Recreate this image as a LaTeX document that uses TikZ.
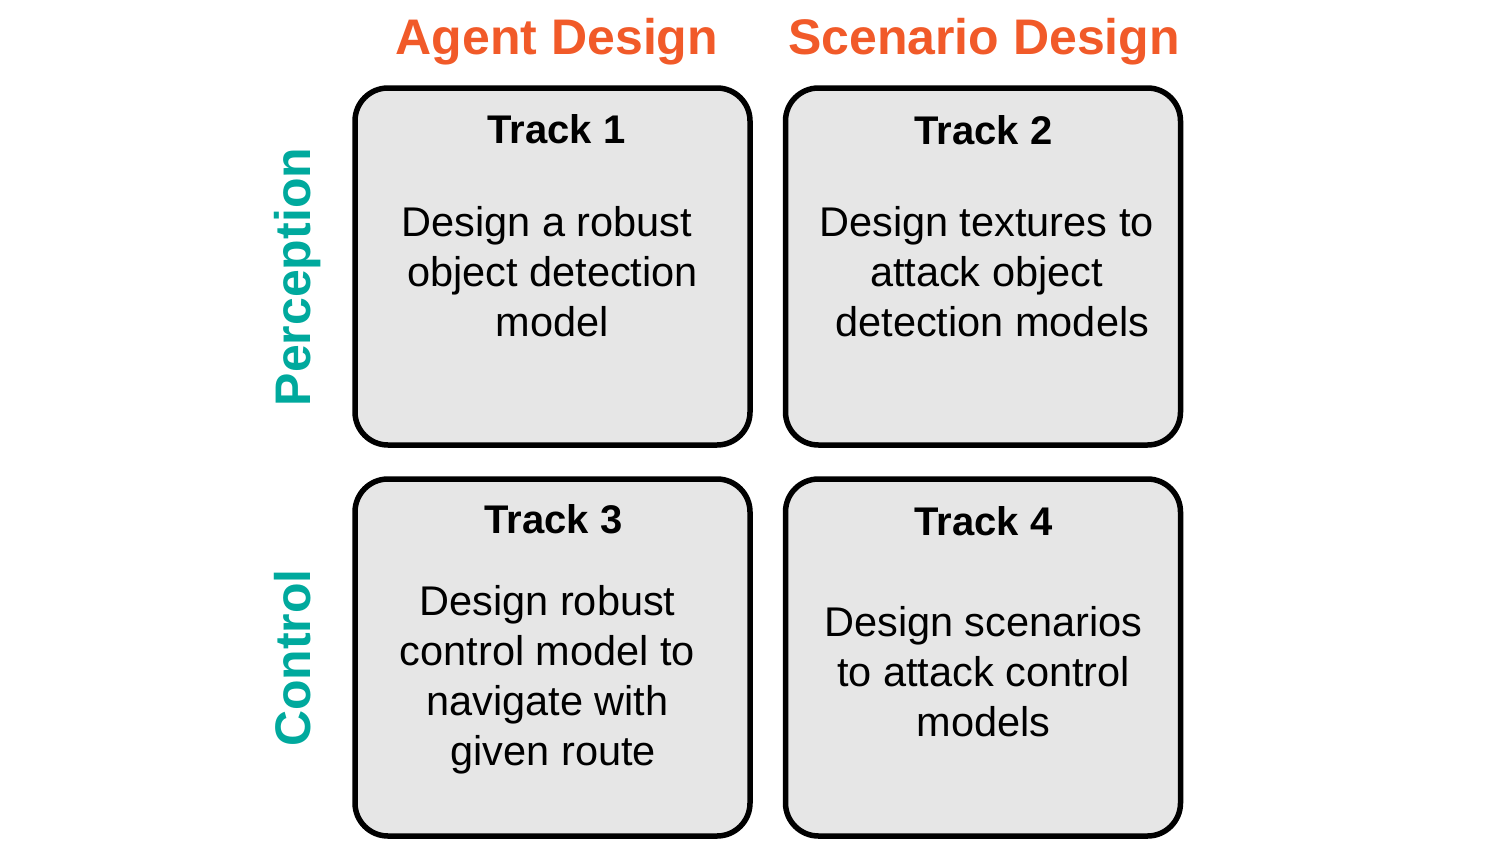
\documentclass[tikz,border=0pt]{standalone}
\usepackage{fontspec}
\setmainfont{Liberation Sans}
\definecolor{headorange}{HTML}{F15A29}
\definecolor{rowteal}{HTML}{00A99D}
\definecolor{boxgray}{HTML}{E6E6E6}
\newcommand{\lead}{\hspace*{11.5pt}}
\tikzset{
  trackbox/.style={draw=black, line width=5.5pt, fill=boxgray, rounded corners=33pt,
    minimum width=395pt, minimum height=357pt, inner sep=0pt},
  colhead/.style={anchor=base, text=headorange, font=\fontsize{50}{60}\selectfont\bfseries, inner sep=0pt},
  rowhead/.style={anchor=base, rotate=90, text=rowteal, font=\fontsize{50}{60}\selectfont\bfseries, inner sep=0pt},
  tracktitle/.style={anchor=base, font=\fontsize{40}{50}\selectfont\bfseries, inner sep=0pt},
  % base anchor of a multi-line node sits on its last line
  trackbody/.style={anchor=base, align=center, font=\fontsize{41.5}{50}\selectfont, inner sep=0pt}
}
\begin{document}
\begin{tikzpicture}[x=1pt, y=-1pt]
  \useasboundingbox (0,0) rectangle (1512,859);

  % column and row headings
  \node[colhead] (hagent) at (557,55) {Agent Design};
  \node[colhead] (hscen) at (984,55) {Scenario Design};
  \node[rowhead] (hperc) at (310,277) {Perception};
  \node[rowhead] (hctrl) at (310,658) {Control};

  % the four track boxes
  \node[trackbox] (b1) at (552.5,266.5) {};
  \node[trackbox] (b2) at (983,266.5) {};
  \node[trackbox] (b3) at (552.5,657.5) {};
  \node[trackbox] (b4) at (983,657.5) {};

  % titles
  \node[tracktitle] (t1) at (556.5,143) {Track 1};
  \node[tracktitle] (t2) at (983.5,144) {Track 2};
  \node[tracktitle] (t3) at (553.5,533) {Track 3};
  \node[tracktitle] (t4) at (983.5,535) {Track 4};

  % descriptions
  \node[trackbody] (d1) at (552.5,336) {Design a robust\lead\\object detection\\model};
  \node[trackbody] (d2) at (986.5,336) {Design textures to\\attack object\\\lead detection models};
  \node[trackbody] (d3) at (547.5,765) {Design robust\\control model to\\navigate with\\\lead given route};
  \node[trackbody] (d4) at (983.5,736) {Design scenarios\\to attack control\\models};
\end{tikzpicture}
\end{document}
